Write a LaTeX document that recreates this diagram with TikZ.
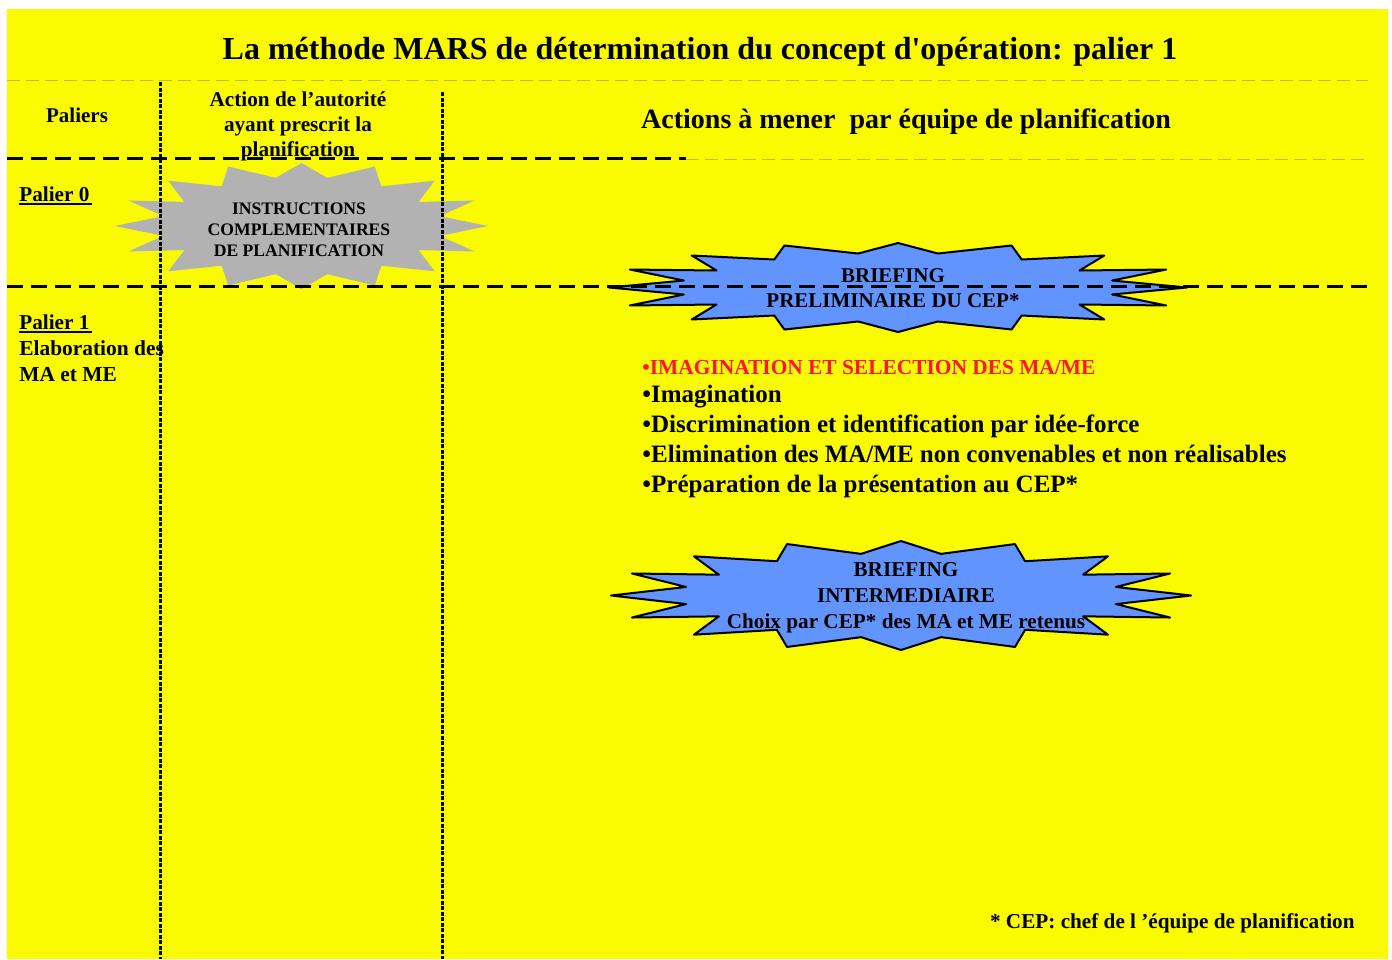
\documentclass[tikz,border=0pt]{standalone}
\usepackage{fontspec}
\setmainfont{Liberation Serif}[Ligatures=TeXOff]
\usetikzlibrary{calc}
\definecolor{bgyellow}{RGB}{250,250,0}
\definecolor{burstblue}{RGB}{98,148,255}
\definecolor{burstgrey}{RGB}{178,178,178}
\definecolor{faintrule}{RGB}{190,190,40}
\definecolor{alertred}{RGB}{255,20,50}

\begin{document}
\begin{tikzpicture}[x=0.5pt, y=-0.5pt,
  every node/.style={inner sep=0pt},
  fsz/.style={font=\fontsize{#1}{#1}\selectfont\bfseries},
  heavydash/.style={line width=1.5pt, dash pattern=on 8pt off 4pt},
  faintdash/.style={draw=faintrule, line width=0.5pt, dash pattern=on 6.5pt off 3pt},
  columnrule/.style={line width=1.5pt, dash pattern=on 2pt off 0.75pt},
  ulinestyle/.style={line width=1pt},
  bluestar/.style={draw, fill=burstblue, line width=1pt, line join=round},
  greystar/.style={fill=burstgrey},
  burst/.pic={
    \path[pic actions] (0,-1) -- (0.138,-0.764) -- (0.393,-0.944) -- (0.428,-0.629)
      -- (0.714,-0.719) -- (0.628,-0.382) -- (0.928,-0.404) -- (0.741,-0.157)
      -- (1,0) -- (0.741,0.157) -- (0.928,0.404) -- (0.628,0.382)
      -- (0.714,0.719) -- (0.428,0.629) -- (0.393,0.944) -- (0.138,0.764)
      -- (0,1) -- (-0.138,0.764) -- (-0.393,0.944) -- (-0.428,0.629)
      -- (-0.714,0.719) -- (-0.628,0.382) -- (-0.928,0.404) -- (-0.741,0.157)
      -- (-1,0) -- (-0.741,-0.157) -- (-0.928,-0.404) -- (-0.628,-0.382)
      -- (-0.714,-0.719) -- (-0.428,-0.629) -- (-0.393,-0.944) -- (-0.138,-0.764)
      -- cycle;
  }
]
\useasboundingbox (0,0) rectangle (1392,959);
\fill[bgyellow] (7,9) rectangle (1388,959);

% bursts
\pic[greystar, xscale=186.5, yscale=63] at (301.5,226) {burst};
\pic[bluestar, xscale=289, yscale=44.5] at (898,287.5) {burst};
\pic[bluestar, xscale=290, yscale=54.5] at (901,595.5) {burst};

% title and column headings
\node[fsz=16, anchor=base] (title) at (700,59)
  {La méthode MARS de détermination du concept d'opération: palier 1};
\node[fsz=10.5, anchor=base] (paliers) at (77,122) {Paliers};
\node[font=\fontsize{10.6}{12.5}\selectfont\bfseries, align=center] (authority) at (298,126)
  {Action de l’autorité\\ayant prescrit la\\planification};
\node[fsz=14, anchor=base] (teamhdr) at (906,128)
  {Actions à mener\ \ par équipe de planification};

% stage labels
\node[fsz=10.6, anchor=base west] (p0) at (19,201) {Palier 0};
\draw[ulinestyle] ($(p0.base west)+(0,3)$) -- ($(p0.base east)+(2,3)$);
\node[fsz=10.6, anchor=base west] (p1) at (19,329) {Palier 1};
\draw[ulinestyle] ($(p1.base west)+(0,3)$) -- ($(p1.base east)+(2,3)$);
\node[font=\fontsize{10.7}{12.75}\selectfont\bfseries, align=left, anchor=north west] (p1desc) at (19,340.5)
  {Elaboration des\\MA et ME};

% burst texts
\node[font=\fontsize{8.8}{10.5}\selectfont\bfseries, align=center] (instr) at (299,229.5)
  {INSTRUCTIONS\\COMPLEMENTAIRES\\DE PLANIFICATION};
\node[font=\fontsize{10.5}{12.5}\selectfont\bfseries, align=center] (brief1) at (893,288)
  {BRIEFING\\PRELIMINAIRE DU CEP*};
\node[font=\fontsize{10.6}{12.9}\selectfont\bfseries, align=center] (brief2) at (906,598)
  {BRIEFING\\INTERMEDIAIRE\\Choix par CEP* des MA et ME retenus};

% action list
\node[fsz=10.7, text=alertred, anchor=base west] (act0) at (642,374) {•IMAGINATION ET SELECTION DES MA/ME};
\node[fsz=12.5, anchor=base west] (act1) at (642,402) {•Imagination};
\node[fsz=12.5, anchor=base west] (act2) at (642,432) {•Discrimination et identification par idée-force};
\node[fsz=12.5, anchor=base west] (act3) at (642,462) {•Elimination des MA/ME non convenables et non réalisables};
\node[fsz=12.5, anchor=base west] (act4) at (642,492) {•Préparation de la présentation au CEP*};

% footnote
\node[fsz=10.6, anchor=base east] (note) at (1355,928) {* CEP: chef de l ’équipe de planification};

% grid rules
\coordinate (r1w) at (7,80);    \coordinate (r1e) at (1368,80);
\coordinate (r2w) at (7,158);   \coordinate (r2m) at (686,158);
\coordinate (r2f) at (686,159); \coordinate (r2e) at (1368,159);
\coordinate (r3w) at (7,286);   \coordinate (r3e) at (1368,286);
\coordinate (c1t) at (160,82);  \coordinate (c1b) at (160,959);
\coordinate (c2t) at (442,92);  \coordinate (c2b) at (442,959);
\draw[faintdash] (r1w) -- (r1e);
\draw[faintdash] (r2f) -- (r2e);
\draw[heavydash] (r2w) -- (r2m);
\draw[heavydash] (r3w) -- (r3e);
\draw[columnrule] (c1t) -- (c1b);
\draw[columnrule] (c2t) -- (c2b);
\end{tikzpicture}
\end{document}
